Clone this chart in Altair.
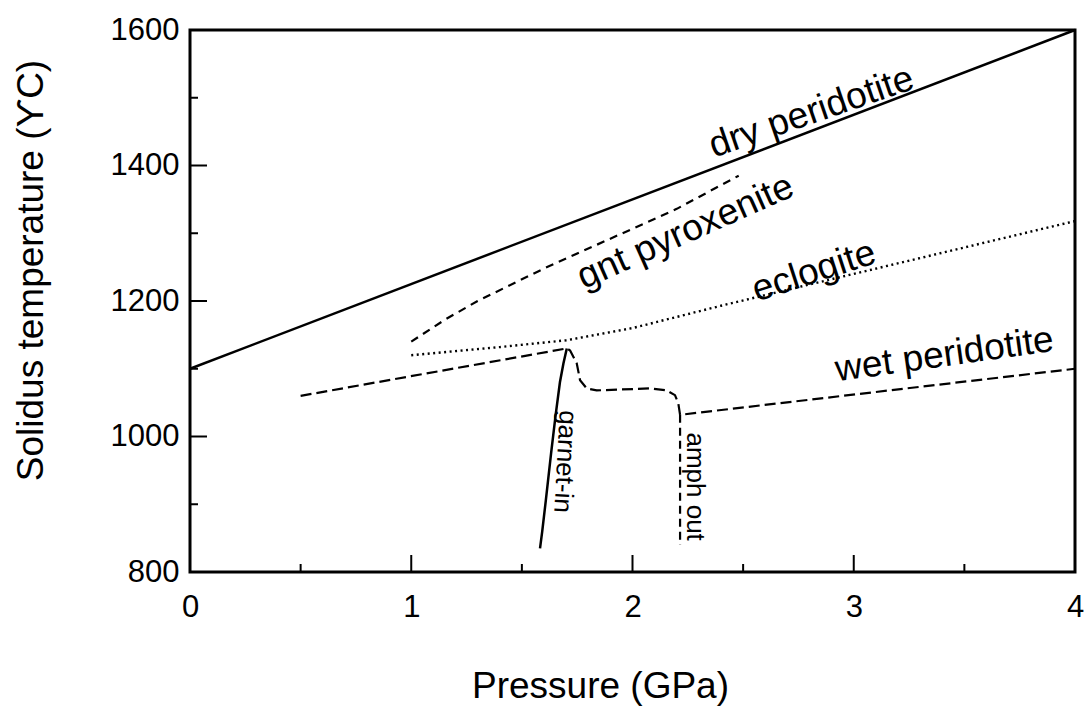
import altair as alt
import pandas as pd

# ---- data ----
dry_P = [0.0, 4.0]
dry_T = [1100, 1600]

gnt_P = [1.0, 1.15, 1.3, 1.6, 1.9, 2.2, 2.48]
gnt_T = [1140, 1172, 1200, 1248, 1292, 1336, 1385]

ecl_P = [1.0, 1.4, 1.7, 2.0, 2.4, 3.0, 4.0]
ecl_T = [1120, 1132, 1142, 1160, 1193, 1240, 1318]

wet_P = [0.5, 1.703, 1.718, 1.748, 1.763, 1.793, 1.838, 2.079, 2.155, 2.192, 2.207, 2.215, 4.0]
wet_T = [1060, 1130, 1127, 1108, 1083, 1071, 1068, 1071, 1068, 1061, 1049, 1032, 1100]

amph_P = [2.215, 2.215]
amph_T = [1032, 840]

grt_P = [1.703, 1.688, 1.672, 1.652, 1.632, 1.608, 1.592, 1.582]
grt_T = [1130, 1108, 1080, 1030, 975, 905, 860, 835]

slope_labels = ["dry peridotite", "gnt pyroxenite", "eclogite", "wet peridotite"]
slope_P = [2.825, 2.26, 2.836, 3.417]
slope_T = [1463, 1287, 1228, 1104]
slope_angle = [341, 336, 342, 352]

vert_labels = ["garnet-in", "amph out"]
vert_P = [1.695, 2.282]
vert_T = [963, 926]
vert_angle = [93, 90]

x_major = [0, 1, 2, 3, 4]
x_minor = [0.5, 1.5, 2.5, 3.5]
y_major = [800, 1000, 1200, 1400, 1600]
y_minor = [900, 1100, 1300, 1500]

W, H = 885, 542
FONT = "Liberation Sans"

xs = alt.Scale(domain=[0, 4], nice=False, zero=False)
ys = alt.Scale(domain=[800, 1600], nice=False, zero=False)

xaxis = alt.Axis(values=x_major, title="Pressure (GPa)", ticks=False, tickSize=0,
                 domain=False, grid=False, labelFontSize=31, labelFont=FONT,
                 labelColor="black", labelPadding=20, labelFlush=False,
                 labelOverlap=False, format="d",
                 titleFont=FONT, titleFontSize=37, titleFontWeight="normal",
                 titleColor="black", titleX=410, titleY=125,
                 titleAlign="center", titleBaseline="alphabetic")
yaxis = alt.Axis(values=y_major, title="Solidus temperature (ϒC)", ticks=False,
                 tickSize=0, domain=False, grid=False, labelFontSize=31,
                 labelFont=FONT, labelColor="black", labelPadding=11,
                 labelFlush=False, labelOverlap=False, format="d",
                 titleFont=FONT, titleFontSize=37, titleFontWeight="normal",
                 titleColor="black", titleAngle=270, titleX=-148, titleY=240,
                 titleAlign="center", titleBaseline="alphabetic")

X = alt.X("P:Q", scale=xs, axis=xaxis)
Y = alt.Y("T:Q", scale=ys, axis=yaxis)


def series(P, T):
    return pd.DataFrame({"P": P, "T": T, "o": list(range(len(P)))})


def line(P, T, width, dash=None):
    kw = dict(color="black", strokeWidth=width, clip=False)
    if dash is not None:
        kw["strokeDash"] = dash
    return alt.Chart(series(P, T)).mark_line(**kw).encode(
        x=X, y=Y, order=alt.Order("o:Q"))


dry = line(dry_P, dry_T, 2.5)
gnt = line(gnt_P, gnt_T, 2.2, [8, 6])
ecl = line(ecl_P, ecl_T, 2.4, [2, 3.5])
wet = line(wet_P, wet_T, 2.2, [11, 5])
amph = line(amph_P, amph_T, 2.2, [8, 5])
grt = line(grt_P, grt_T, 2.5)

# inward ticks
ytick_major = alt.Chart(pd.DataFrame({"T": y_major})).mark_rule(
    color="black", strokeWidth=2).encode(y=Y, x=alt.value(0), x2=alt.value(17))
ytick_minor = alt.Chart(pd.DataFrame({"T": y_minor})).mark_rule(
    color="black", strokeWidth=2).encode(y=Y, x=alt.value(0), x2=alt.value(8))
xtick_major = alt.Chart(pd.DataFrame({"P": x_major})).mark_rule(
    color="black", strokeWidth=2).encode(x=X, y=alt.value(H), y2=alt.value(H - 17))
xtick_minor = alt.Chart(pd.DataFrame({"P": x_minor})).mark_rule(
    color="black", strokeWidth=2).encode(x=X, y=alt.value(H), y2=alt.value(H - 8))

slope_df = pd.DataFrame({"label": slope_labels, "P": slope_P, "T": slope_T,
                         "ang": slope_angle})
slope_text = alt.Chart(slope_df).mark_text(
    font=FONT, fontSize=37, color="black", align="center",
    baseline="alphabetic").encode(
    x=X, y=Y, text="label:N", angle=alt.Angle("ang:Q", scale=None))

vert_df = pd.DataFrame({"label": vert_labels, "P": vert_P, "T": vert_T,
                        "ang": vert_angle})
vert_text = alt.Chart(vert_df).mark_text(
    font=FONT, fontSize=26, color="black", align="center",
    baseline="middle").encode(
    x=X, y=Y, text="label:N", angle=alt.Angle("ang:Q", scale=None))

chart = alt.layer(
    dry, gnt, ecl, wet, amph, grt,
    ytick_major, ytick_minor, xtick_major, xtick_minor,
    slope_text, vert_text,
).properties(
    width=W, height=H,
    autosize=alt.AutoSizeParams(type="none"),
    padding={"left": 190, "top": 30, "right": 16, "bottom": 137},
    background="white",
).configure_view(stroke="black", strokeWidth=3)

chart.save("out.html", embed_options={"renderer": "svg", "actions": False})
